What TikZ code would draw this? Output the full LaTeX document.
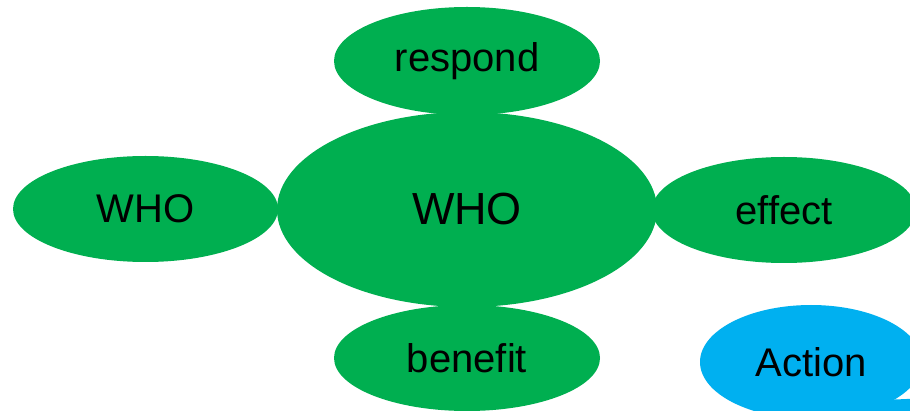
\documentclass[tikz,border=0pt]{standalone}
\usepackage{fontspec}
\setmainfont[Ligatures=NoCommon]{Liberation Sans}
\usetikzlibrary{shapes.geometric}
\definecolor{leafgreen}{HTML}{00AF50}
\definecolor{skyblue}{HTML}{00B0F0}
\tikzset{
  blob/.style={ellipse, fill=leafgreen, draw=none, inner sep=0pt, text=black, font=\fontsize{40}{40}\selectfont},
  actionblob/.style={ellipse, fill=skyblue, draw=none, inner sep=0pt, text=black, font=\fontsize{40}{40}\selectfont},
}
\begin{document}
\begin{tikzpicture}[x=1pt, y=-1pt]
\useasboundingbox (0,0) rectangle (910,411);
\clip (0,0) rectangle (910,411);
\fill[white] (0,0) rectangle (910,411);
\node[blob, minimum width=266pt, minimum height=108pt] (respond) at (467,61) {respond};
\node[blob, minimum width=265pt, minimum height=106pt] (wholeft) at (145.5,209) {WHO};
\node[blob, minimum width=264pt, minimum height=106pt] (effect) at (784,210) {effect};
\node[blob, minimum width=266pt, minimum height=106pt] (benefit) at (467,358) {benefit};
\node[blob, minimum width=380pt, minimum height=195pt, font=\fontsize{45}{45}\selectfont] (who) at (467,209.5) {WHO};
\fill[skyblue] (860,401) -- (1000,395) -- (850,425) -- cycle;
\node[actionblob, minimum width=222pt, minimum height=114pt] (action) at (811,362) {Action};
\end{tikzpicture}
\end{document}
